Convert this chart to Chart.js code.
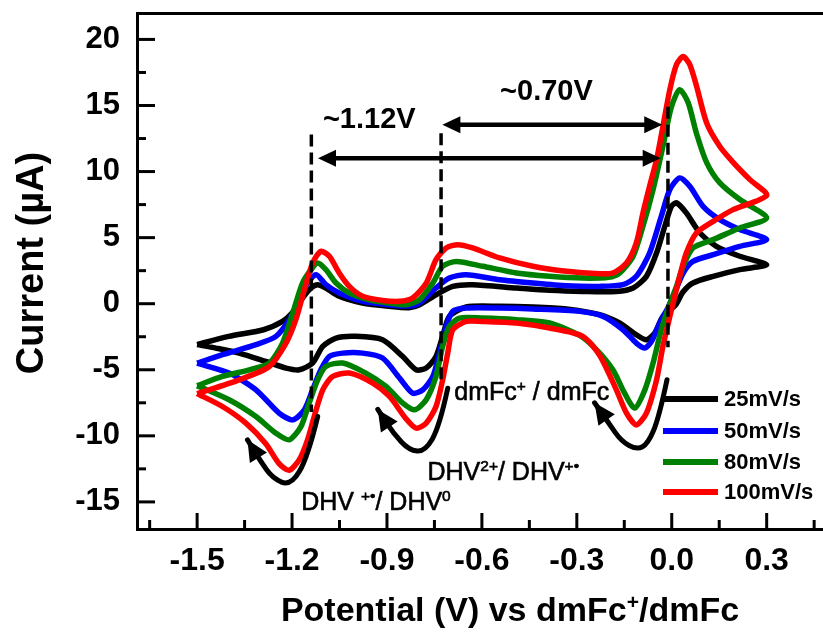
<!DOCTYPE html>
<html>
<head>
<meta charset="utf-8">
<script src="https://cdn.jsdelivr.net/npm/chart.js@4.4.1/dist/chart.umd.min.js"></script>
<style>
    html, body { margin: 0; padding: 0; background: #fff; }
</style>
</head>
<body>
<canvas id="cvChart" width="823" height="633"></canvas>
<script>
// Scan rates and colours
const rates = ['25mV/s', '50mV/s', '80mV/s', '100mV/s'];
const colors = ['#000000', '#0000ff', '#008000', '#ff0000'];

// Axis ticks
const xTicks = [-1.5, -1.2, -0.9, -0.6, -0.3, 0.0, 0.3];
const yTicks = [-15, -10, -5, 0, 5, 10, 15, 20];

// CV loops: [potential V, current uA], forward scan then reverse scan
const cv25 = [
    [-1.50, -3.10], [-1.40, -2.47], [-1.29, -1.97], [-1.23, -1.34], [-1.20, -0.71], [-1.167, 0.43],
    [-1.14, 1.19], [-1.119, 1.44], [-1.093, 1.19], [-1.051, 0.56], [-0.977, 0.05], [-0.892, -0.20],
    [-0.83, -0.30], [-0.797, -0.08], [-0.745, 0.68], [-0.692, 1.31], [-0.629, 1.44], [-0.491, 1.19],
    [-0.386, 1.01], [-0.281, 0.93], [-0.175, 0.93], [-0.122, 1.19], [-0.080, 2.07], [-0.048, 3.84],
    [-0.022, 5.86], [-0.001, 7.37], [0.015, 7.63], [0.046, 6.87], [0.089, 5.35], [0.141, 4.34],
    [0.215, 3.59], [0.30, 2.95],
    [0.215, 2.58], [0.131, 2.07], [0.067, 1.57], [0.036, 0.90], [0.012, -0.10], [-0.028, -0.96],
    [-0.054, -2.22], [-0.080, -2.73], [-0.112, -2.35], [-0.165, -1.46], [-0.228, -0.83], [-0.333, -0.40],
    [-0.439, -0.25], [-0.544, -0.20], [-0.650, -0.25], [-0.703, -0.96], [-0.724, -2.47], [-0.745, -3.99],
    [-0.776, -4.87], [-0.808, -5.00], [-0.850, -4.00], [-0.914, -2.73], [-0.998, -2.47], [-1.061, -2.60],
    [-1.103, -3.23], [-1.135, -4.49], [-1.177, -5.00], [-1.219, -4.87], [-1.283, -4.37], [-1.367, -3.74],
    [-1.441, -3.36], [-1.50, -3.10]
];
const cv50 = [
    [-1.50, -4.50], [-1.42, -3.86], [-1.314, -3.10], [-1.251, -2.47], [-1.209, -1.21], [-1.177, 0.30],
    [-1.151, 1.57], [-1.124, 2.20], [-1.093, 1.44], [-1.051, 0.81], [-0.977, 0.18], [-0.892, -0.08],
    [-0.83, -0.18], [-0.797, 0.05], [-0.745, 1.19], [-0.703, 1.94], [-0.650, 2.20], [-0.544, 1.82],
    [-0.439, 1.57], [-0.333, 1.36], [-0.228, 1.31], [-0.154, 1.44], [-0.112, 2.07], [-0.070, 3.84],
    [-0.033, 6.62], [-0.006, 8.64], [0.025, 9.52], [0.057, 8.89], [0.099, 7.37], [0.152, 6.36],
    [0.215, 5.61], [0.30, 4.85],
    [0.215, 4.34], [0.131, 3.71], [0.067, 3.20], [0.036, 2.32], [0.009, 0.81], [-0.01, -0.20],
    [-0.038, -1.46], [-0.064, -2.85], [-0.085, -3.36], [-0.112, -2.98], [-0.154, -1.97], [-0.217, -0.96],
    [-0.291, -0.58], [-0.439, -0.40], [-0.544, -0.33], [-0.650, -0.33], [-0.692, -0.58], [-0.713, -1.72],
    [-0.734, -3.74], [-0.755, -5.50], [-0.787, -6.52], [-0.819, -6.77], [-0.861, -5.60], [-0.914, -4.11],
    [-0.977, -3.74], [-1.040, -3.74], [-1.082, -3.99], [-1.109, -5.00], [-1.135, -6.52], [-1.161, -8.03],
    [-1.198, -8.79], [-1.241, -8.28], [-1.314, -6.52], [-1.399, -5.25], [-1.50, -4.50]
];
const cv80 = [
    [-1.50, -6.20], [-1.42, -5.50], [-1.335, -5.00], [-1.272, -4.50], [-1.23, -2.98], [-1.198, -0.71],
    [-1.167, 1.57], [-1.140, 2.58], [-1.119, 3.08], [-1.093, 2.58], [-1.061, 1.57], [-1.019, 0.81],
    [-0.956, 0.30], [-0.892, 0.05], [-0.84, -0.08], [-0.797, 0.30], [-0.755, 1.57], [-0.724, 2.83],
    [-0.681, 3.20], [-0.597, 2.83], [-0.491, 2.32], [-0.386, 2.07], [-0.281, 1.94], [-0.20, 2.00],
    [-0.165, 2.32], [-0.122, 3.59], [-0.091, 5.86], [-0.059, 8.64], [-0.028, 11.9], [-0.001, 14.9],
    [0.025, 16.2], [0.052, 15.2], [0.078, 12.9], [0.110, 10.7], [0.152, 9.14], [0.215, 7.88], [0.30, 6.50],
    [0.215, 5.73], [0.131, 4.85], [0.067, 4.22], [0.036, 2.83], [0.015, 1.31], [-0.006, 0.0],
    [-0.033, -1.97], [-0.059, -4.49], [-0.085, -6.52], [-0.117, -7.90], [-0.149, -6.77], [-0.186, -5.00],
    [-0.238, -3.48], [-0.291, -2.40], [-0.386, -1.46], [-0.491, -1.21], [-0.597, -1.09], [-0.671, -1.09],
    [-0.703, -1.72], [-0.724, -3.23], [-0.745, -5.50], [-0.776, -7.27], [-0.812, -8.03], [-0.850, -7.52],
    [-0.903, -6.26], [-0.967, -5.25], [-1.040, -4.49], [-1.093, -4.75], [-1.119, -5.76], [-1.146, -7.52],
    [-1.172, -9.30], [-1.209, -10.3], [-1.251, -9.80], [-1.314, -8.54], [-1.399, -7.27], [-1.50, -6.20]
];
const cv100 = [
    [-1.50, -6.80], [-1.367, -5.76], [-1.272, -4.75], [-1.219, -2.98], [-1.188, -1.21], [-1.161, 1.06],
    [-1.135, 3.08], [-1.109, 3.96], [-1.082, 3.59], [-1.051, 2.32], [-1.019, 1.31], [-0.977, 0.56],
    [-0.914, 0.25], [-0.860, 0.18], [-0.819, 0.43], [-0.776, 1.56], [-0.745, 3.33], [-0.713, 4.22],
    [-0.676, 4.47], [-0.629, 4.22], [-0.544, 3.46], [-0.439, 2.83], [-0.333, 2.45], [-0.228, 2.27],
    [-0.186, 2.32], [-0.143, 3.08], [-0.112, 4.60], [-0.091, 6.87], [-0.070, 8.89], [-0.048, 10.9],
    [-0.028, 13.4], [-0.006, 16.2], [0.015, 18.1], [0.036, 18.7], [0.057, 18.1], [0.078, 16.5],
    [0.110, 13.7], [0.152, 11.9], [0.194, 10.7], [0.247, 9.39], [0.30, 8.20],
    [0.194, 7.12], [0.131, 6.23], [0.078, 5.35], [0.046, 3.84], [0.025, 2.07], [0.008, 0.40],
    [-0.006, -0.96], [-0.028, -3.23], [-0.048, -5.76], [-0.080, -8.28], [-0.112, -9.17], [-0.143, -8.28],
    [-0.175, -6.52], [-0.228, -3.90], [-0.281, -2.47], [-0.386, -1.84], [-0.491, -1.46], [-0.597, -1.34],
    [-0.650, -1.34], [-0.692, -1.97], [-0.708, -3.74], [-0.724, -5.76], [-0.745, -7.78], [-0.776, -9.04],
    [-0.808, -9.42], [-0.840, -8.70], [-0.892, -7.02], [-0.945, -6.01], [-1.019, -5.25], [-1.072, -5.51],
    [-1.103, -6.52], [-1.130, -8.54], [-1.151, -10.3], [-1.177, -11.8], [-1.209, -12.6], [-1.241, -12.1],
    [-1.283, -10.6], [-1.346, -9.04], [-1.420, -7.78], [-1.50, -6.80]
];
const loops = [cv25, cv50, cv80, cv100];

// Annotation geometry in data units
const dashedLines = [[-1.139, 12.8, -8.2], [-0.729, 12.9, -6.0], [-0.012, 14.9, -3.3]];
const spanArrows = [[-1.118, -0.035, 11.0], [-0.725, -0.030, 13.55]];
const spanLabels = [['~1.12V', -0.956, 13.3], ['~0.70V', -0.396, 15.45]];
const scanArrows = [
    [[-1.119, -8.54], [-1.150, -11.6], [-1.204, -13.8], [-1.262, -13.2], [-1.300, -11.9], [-1.341, -10.3]],
    [[-0.708, -6.4], [-0.734, -9.3], [-0.780, -11.2], [-0.830, -11.1], [-0.880, -9.8], [-0.929, -8.0]],
    [[-0.015, -5.76], [-0.040, -8.6], [-0.075, -10.6], [-0.110, -11.06], [-0.160, -10.4], [-0.200, -9.0], [-0.244, -7.5]]
];
const redoxLabels = [
    [[{ t: 'dmFc' }, { t: '+', sup: true }, { t: ' / dmFc' }], -0.687, -7.27],
    [[{ t: 'DHV' }, { t: '2+', sup: true }, { t: '/ DHV' }, { t: '+\u2022', sup: true }], -0.772, -13.33],
    [[{ t: 'DHV ' }, { t: '+\u2022', sup: true }, { t: '/ DHV' }, { t: '0', sup: true }], -1.171, -15.6]
];

const FONT = '"Liberation Sans", Arial, sans-serif';

function richWidth(ctx, parts, size, weight) {
    let w = 0;
    parts.forEach(p => {
        ctx.font = weight + ' ' + (p.sup ? size * 0.62 : size) + 'px ' + FONT;
        w += ctx.measureText(p.t).width;
    });
    return w;
}

function richText(ctx, x, y, parts, size, weight, heavy) {
    let cx = x;
    parts.forEach(p => {
        ctx.font = weight + ' ' + (p.sup ? size * 0.62 : size) + 'px ' + FONT;
        const py = p.sup ? y - size * 0.36 : y;
        ctx.fillText(p.t, cx, py);
        if (heavy) ctx.strokeText(p.t, cx, py);
        cx += ctx.measureText(p.t).width;
    });
}

function arrowHead(ctx, x1, y1, x2, y2, len, half) {
    const a = Math.atan2(y2 - y1, x2 - x1);
    ctx.beginPath();
    ctx.moveTo(x2, y2);
    ctx.lineTo(x2 - len * Math.cos(a) + half * Math.sin(a), y2 - len * Math.sin(a) - half * Math.cos(a));
    ctx.lineTo(x2 - len * Math.cos(a) - half * Math.sin(a), y2 - len * Math.sin(a) + half * Math.cos(a));
    ctx.closePath();
    ctx.fill();
}

// Inward ticks on the frame
const frameTicks = {
    id: 'frameTicks',
    afterDatasetsDraw(chart) {
        const { ctx, chartArea: a, scales: { x, y } } = chart;
        ctx.save();
        ctx.strokeStyle = '#000';
        ctx.lineWidth = 3;
        const xStep = xTicks[1] - xTicks[0];
        const yStep = yTicks[1] - yTicks[0];
        const mark = (px, py, dx, dy) => {
            ctx.beginPath();
            ctx.moveTo(px, py);
            ctx.lineTo(px + dx, py + dy);
            ctx.stroke();
        };
        xTicks.forEach(v => mark(x.getPixelForValue(v), a.bottom, 0, -16));
        xTicks.concat([xTicks[xTicks.length - 1] + xStep]).forEach(v => {
            const m = v - xStep / 2;
            if (m > x.min && m < x.max) mark(x.getPixelForValue(m), a.bottom, 0, -9);
        });
        yTicks.forEach(v => mark(a.left, y.getPixelForValue(v), 18, 0));
        yTicks.concat([yTicks[yTicks.length - 1] + yStep]).forEach(v => {
            const m = v - yStep / 2;
            if (m > y.min && m < y.max) mark(a.left, y.getPixelForValue(m), 9, 0);
        });
        ctx.restore();
    }
};

// Dashed guides, arrows and labels
const annotations = {
    id: 'annotations',
    afterDatasetsDraw(chart) {
        const { ctx, scales: { x, y } } = chart;
        const P = (v, i) => [x.getPixelForValue(v), y.getPixelForValue(i)];
        ctx.save();
        ctx.strokeStyle = '#000';
        ctx.fillStyle = '#000';

        ctx.lineWidth = 3.5;
        ctx.setLineDash([12, 6]);
        dashedLines.forEach(([v, top, bottom]) => {
            const [px, py1] = P(v, top);
            const py2 = y.getPixelForValue(bottom);
            ctx.beginPath();
            ctx.moveTo(px, py1);
            ctx.lineTo(px, py2);
            ctx.stroke();
        });
        ctx.setLineDash([]);

        ctx.lineWidth = 4.5;
        spanArrows.forEach(([v1, v2, i]) => {
            const [x1, py] = P(v1, i);
            const x2 = x.getPixelForValue(v2);
            ctx.beginPath();
            ctx.moveTo(x1 + 10, py);
            ctx.lineTo(x2 - 10, py);
            ctx.stroke();
            arrowHead(ctx, x2, py, x1, py, 18, 8.5);
            arrowHead(ctx, x1, py, x2, py, 18, 8.5);
        });

        ctx.textAlign = 'center';
        ctx.textBaseline = 'alphabetic';
        ctx.font = 'bold 29px ' + FONT;
        spanLabels.forEach(([t, v, i]) => {
            const [px, py] = P(v, i);
            ctx.fillText(t, px, py);
        });

        ctx.lineWidth = 5;
        ctx.lineCap = 'round';
        scanArrows.forEach(pts => {
            const pp = pts.map(([v, i]) => P(v, i));
            ctx.beginPath();
            ctx.moveTo(pp[0][0], pp[0][1]);
            for (let k = 1; k < pp.length - 1; k++) {
                const mx = (pp[k][0] + pp[k + 1][0]) / 2;
                const my = (pp[k][1] + pp[k + 1][1]) / 2;
                ctx.quadraticCurveTo(pp[k][0], pp[k][1], mx, my);
            }
            const n = pp.length - 1;
            ctx.lineTo(pp[n][0], pp[n][1]);
            ctx.stroke();
            arrowHead(ctx, pp[n - 1][0], pp[n - 1][1], pp[n][0], pp[n][1], 21, 10);
        });

        ctx.textAlign = 'left';
        ctx.lineWidth = 0.6;
        ctx.lineCap = 'butt';
        redoxLabels.forEach(([parts, v, i]) => {
            const [px, py] = P(v, i);
            richText(ctx, px, py, parts, 25, 'normal', true);
        });
        ctx.restore();
    }
};

// Legend inside the frame and axis titles
const legendAndTitles = {
    id: 'legendAndTitles',
    afterDraw(chart) {
        const { ctx } = chart;
        ctx.save();
        const rowY = [399, 431, 462, 492];
        rates.forEach((r, k) => {
            ctx.strokeStyle = colors[k];
            ctx.lineWidth = 6;
            ctx.beginPath();
            ctx.moveTo(663, rowY[k]);
            ctx.lineTo(718, rowY[k]);
            ctx.stroke();
            ctx.fillStyle = '#000';
            ctx.font = 'bold 22px ' + FONT;
            ctx.textAlign = 'left';
            ctx.textBaseline = 'middle';
            ctx.fillText(r, 724, rowY[k] + 1);
        });

        ctx.fillStyle = '#000';
        ctx.textBaseline = 'alphabetic';
        const xTitle = [{ t: 'Potential (V) vs dmFc' }, { t: '+', sup: true }, { t: '/dmFc' }];
        const w = richWidth(ctx, xTitle, 34, 'bold');
        richText(ctx, 510 - w / 2, 621, xTitle, 34, 'bold', false);

        ctx.translate(33, 263);
        ctx.rotate(-Math.PI / 2);
        ctx.textAlign = 'center';
        ctx.textBaseline = 'middle';
        ctx.font = 'bold 38px ' + FONT;
        ctx.fillText('Current (\u00b5A)', 0, 0);
        ctx.restore();
    }
};

const datasets = loops.map((loop, k) => ({
    label: rates[k],
    data: loop.map(([v, i]) => ({ x: v, y: i })),
    borderColor: colors[k],
    borderWidth: 5.5,
    showLine: true,
    pointRadius: 0,
    tension: 0.25,
    fill: false,
    order: loops.length - k
}));

// keep the frame where the reference has it, whatever the label overhang
const noPad = s => {
    s.paddingTop = 0;
    s.paddingBottom = 0;
    s.paddingLeft = 0;
    s.paddingRight = 0;
};

const cvChart = new Chart(document.getElementById('cvChart'), {
    type: 'scatter',
    data: { datasets: datasets },
    options: {
        responsive: false,
        animation: false,
        devicePixelRatio: 1,
        layout: { padding: { top: 13, right: 0, bottom: 0, left: 0 } },
        plugins: { legend: { display: false }, tooltip: { enabled: false } },
        scales: {
            x: {
                type: 'linear',
                position: 'bottom',
                min: -1.69,
                max: 0.478,
                afterBuildTicks: s => { s.ticks = xTicks.map(v => ({ value: v })); },
                afterFit: s => { s.height = 104; noPad(s); },
                grid: { display: false, drawTicks: false },
                border: { display: true, width: 3, color: '#000' },
                ticks: {
                    autoSkip: false,
                    maxRotation: 0,
                    padding: 13,
                    color: '#000',
                    font: { family: FONT, size: 32, weight: 'bold' },
                    callback: v => v.toFixed(1)
                }
            },
            xTop: {
                type: 'linear',
                position: 'top',
                min: -1.69,
                max: 0.478,
                afterFit: s => { s.height = 0; noPad(s); },
                grid: { display: false, drawTicks: false },
                border: { display: true, width: 3, color: '#000' },
                ticks: { display: false }
            },
            y: {
                type: 'linear',
                position: 'left',
                min: -17.05,
                max: 22,
                afterBuildTicks: s => { s.ticks = yTicks.map(v => ({ value: v })); },
                afterFit: s => { s.width = 137; noPad(s); },
                grid: { display: false, drawTicks: false },
                border: { display: true, width: 3, color: '#000' },
                ticks: {
                    padding: 17,
                    color: '#000',
                    font: { family: FONT, size: 31, weight: 'bold' },
                    callback: v => String(v)
                }
            }
        }
    },
    plugins: [frameTicks, annotations, legendAndTitles]
});
</script>
</body>
</html>
